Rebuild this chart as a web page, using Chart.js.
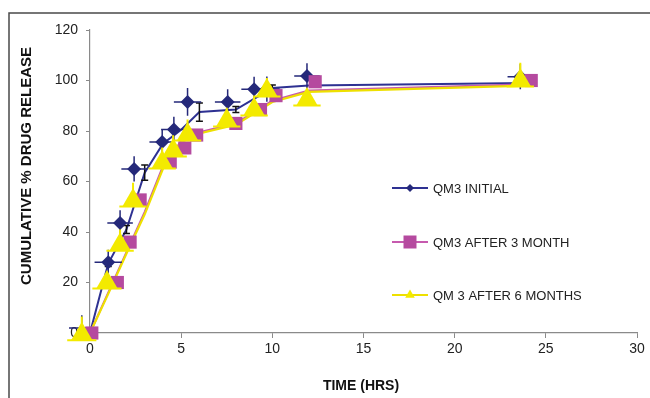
<!DOCTYPE html>
<html>
<head>
<meta charset="utf-8">
<title>QM3 drug release</title>
<script src="https://cdn.jsdelivr.net/npm/chart.js"></script>
<style>
body{margin:0;background:#fff}
#wrap{width:650px;height:398px}
</style>
</head>
<body>
<div id="wrap"><canvas id="chart" width="650" height="398"></canvas></div>
<script>
// release profiles at the sampling times (the joined lines)
const hours = [0, 1, 2, 3, 4, 5, 6, 8, 10, 12, 24]
const initialLine = [0, 27.5, 41, 63.5, 75, 80.5, 87.5, 88.5, 97, 98, 99]
const month3Line = [0, 16, 32, 48, 66, 76, 79.5, 83, 92, 96, 98.5]
const month6Line = [0, 15.5, 31.5, 47, 65, 75.5, 79, 82.5, 91.5, 95.5, 98]
// sd bars (black) on the initial profile
const initialSd = [0, 1.2, 1.6, 3, 0, 0, 3.6, 1.2, 1.2, 0, 0]

// markers as they sit on the figure
const initialX = [-0.45, 1, 1.65, 2.42, 3.96, 4.6, 5.35, 7.55, 9, 9.7, 11.9, 23.6]
const initialY = [2, 28, 43.6, 65, 75.6, 80.6, 91.5, 91.5, 96.5, 96.6, 101.8, 101.5]
const initialErrX = [0.7, 0.75, 0.7, 0.7, 0.7, 0.7, 0.75, 0.7, 0.7, 0.7, 0.7, 0.7]
const initialErrY = [5, 5, 5, 5, 5, 5, 5.5, 5, 5, 5, 5, 5]

const month3X = [0.1, 1.5, 2.2, 2.75, 4.4, 5.2, 5.85, 8, 9.35, 10.2, 12.35, 24.2]
const month3Y = [0, 20, 36, 52.7, 67.7, 73.3, 78.4, 83, 88.5, 94, 99.5, 100]

const month6X = [-0.45, 0.93, 1.65, 2.36, 3.96, 4.56, 5.35, 7.5, 9, 9.7, 11.9, 23.6]
const month6Y = [-0.5, 20, 35, 52.5, 67.5, 72.3, 78.6, 84.2, 88.5, 96, 92.5, 100]
const month6ErrX = [0.8, 0.8, 0.75, 0.75, 0.75, 0.75, 0.75, 0.75, 0.75, 0.75, 0.75, 0.75]
const month6ErrUp = [7, 4, 6, 7, 6, 6, 6, 5, 5, 5, 4, 7]

const xTicks = [0, 5, 10, 15, 20, 25, 30]
const yTicks = [0, 20, 40, 60, 80, 100, 120]

const seriesNames = ["QM3 INITIAL", "QM3 AFTER 3 MONTH", "QM 3 AFTER 6 MONTHS"]

const BLUE = "#25297a"
const BLUE_LINE = "#2e3192"
const PINK = "#b54a9f"
const PINK_LINE = "#c65aae"
const YELLOW = "#f3ea00"
const YELLOW_LINE = "#eee000"

function pts(xs, ys){
  return xs.map((x, i) => ({x: x, y: ys[i]}))
}

// error bars drawn right after each dataset, through the scales
const errorBars = {
  id: "errorBars",
  afterDatasetDraw(chart, args){
    const ds = chart.data.datasets[args.index]
    const e = ds.errorBars
    if(!e) return
    const ctx = chart.ctx
    const xs = chart.scales.x, ys = chart.scales.y
    ctx.save()
    ctx.strokeStyle = e.color
    ctx.lineWidth = e.width
    ds.data.forEach((p, i) => {
      const px = xs.getPixelForValue(p.x)
      const py = ys.getPixelForValue(p.y)
      ctx.beginPath()
      if(e.yUp && e.yUp[i]){
        ctx.moveTo(px, py)
        ctx.lineTo(px, ys.getPixelForValue(p.y + e.yUp[i]))
      }
      if(e.yDown && e.yDown[i]){
        ctx.moveTo(px, py)
        ctx.lineTo(px, ys.getPixelForValue(p.y - e.yDown[i]))
      }
      if(e.x && e.x[i]){
        const dy = e.dy || 0
        ctx.moveTo(xs.getPixelForValue(p.x - e.x[i]), py + dy)
        ctx.lineTo(xs.getPixelForValue(p.x + e.x[i]), py + dy)
      }
      if(e.cap && e.yUp && e.yUp[i]){
        const t = ys.getPixelForValue(p.y + e.yUp[i])
        const b = ys.getPixelForValue(p.y - e.yDown[i])
        ctx.moveTo(px - e.cap, t); ctx.lineTo(px + e.cap, t)
        ctx.moveTo(px - e.cap, b); ctx.lineTo(px + e.cap, b)
      }
      ctx.stroke()
    })
    ctx.restore()
  }
}

function marker(ctx, style, x, y, r, color){
  ctx.fillStyle = color
  ctx.beginPath()
  if(style == "diamond"){
    ctx.moveTo(x, y - r); ctx.lineTo(x + r, y); ctx.lineTo(x, y + r); ctx.lineTo(x - r, y)
  } else if(style == "square"){
    ctx.rect(x - r, y - r, 2 * r, 2 * r)
  } else {
    ctx.moveTo(x, y - r); ctx.lineTo(x + r * 0.87, y + r * 0.5); ctx.lineTo(x - r * 0.87, y + r * 0.5)
  }
  ctx.closePath()
  ctx.fill()
}

// frame, axis titles and the legend inside the plot
const decor = {
  id: "decor",
  beforeDraw(chart){
    const ctx = chart.ctx
    ctx.save()
    ctx.fillStyle = "#fff"
    ctx.fillRect(0, 0, chart.width, chart.height)
    ctx.strokeStyle = "#4a4a4a"
    ctx.lineWidth = 1.5
    ctx.beginPath()
    ctx.moveTo(9, chart.height)
    ctx.lineTo(9, 13)
    ctx.lineTo(chart.width, 13)
    ctx.stroke()
    ctx.restore()
  },
  afterDraw(chart){
    const ctx = chart.ctx
    ctx.save()
    ctx.fillStyle = "#111"
    ctx.font = "bold 15px 'Liberation Sans', Arial, sans-serif"
    ctx.textAlign = "center"
    ctx.textBaseline = "middle"
    ctx.translate(27, 166)
    ctx.rotate(-Math.PI / 2)
    ctx.fillText("CUMULATIVE % DRUG RELEASE", 0, 0)
    ctx.restore()

    ctx.save()
    ctx.fillStyle = "#111"
    ctx.font = "bold 14px 'Liberation Sans', Arial, sans-serif"
    ctx.textAlign = "center"
    ctx.textBaseline = "middle"
    ctx.fillText("TIME (HRS)", 361, 386)

    const rows = [
      {y: 188, line: BLUE_LINE, color: BLUE, style: "diamond", r: 4},
      {y: 242, line: PINK_LINE, color: PINK, style: "square", r: 6.5},
      {y: 295, line: YELLOW_LINE, color: YELLOW, style: "triangle", r: 5.5}
    ]
    ctx.font = "13px 'Liberation Sans', Arial, sans-serif"
    ctx.textAlign = "left"
    rows.forEach((row, i) => {
      ctx.strokeStyle = row.line
      ctx.lineWidth = 2
      ctx.beginPath()
      ctx.moveTo(392, row.y)
      ctx.lineTo(428, row.y)
      ctx.stroke()
      marker(ctx, row.style, 410, row.y, row.r, row.color)
      ctx.fillStyle = "#222"
      ctx.fillText(seriesNames[i], 433, row.y + 1)
    })
    ctx.restore()
  }
}

const tickFont = {family: "'Liberation Sans', Arial, sans-serif", size: 14}

new Chart(document.getElementById("chart"), {
  type: "line",
  data: {
    datasets: [
      {
        label: seriesNames[2] + " markers", data: pts(month6X, month6Y),
        showLine: false, pointStyle: "triangle", pointRadius: 12.5, pointHoverRadius: 12.5,
        backgroundColor: YELLOW, borderWidth: 0, clip: false, order: 0,
        errorBars: {color: YELLOW, width: 2, x: month6ErrX, yUp: month6ErrUp, dy: 6}
      },
      {
        label: seriesNames[1] + " markers", data: pts(month3X, month3Y),
        showLine: false, pointStyle: "rect", pointRadius: 9.3, pointHoverRadius: 9.3,
        backgroundColor: PINK, borderWidth: 0, clip: false, order: 1
      },
      {
        label: seriesNames[0] + " markers", data: pts(initialX, initialY),
        showLine: false, pointStyle: "rectRot", pointRadius: 7, pointHoverRadius: 7,
        backgroundColor: BLUE, borderWidth: 0, clip: false, order: 2,
        errorBars: {color: BLUE, width: 1.5, x: initialErrX, yUp: initialErrY, yDown: initialErrY}
      },
      {
        label: seriesNames[2], data: pts(hours, month6Line),
        borderColor: YELLOW_LINE, borderWidth: 2.2, pointRadius: 0, tension: 0, clip: false, order: 3
      },
      {
        label: seriesNames[1], data: pts(hours, month3Line),
        borderColor: PINK_LINE, borderWidth: 2, pointRadius: 0, tension: 0, clip: false, order: 4
      },
      {
        label: seriesNames[0], data: pts(hours, initialLine),
        borderColor: BLUE_LINE, borderWidth: 2, pointRadius: 0, tension: 0, clip: false, order: 5,
        errorBars: {color: "#111", width: 1.5, yUp: initialSd, yDown: initialSd, cap: 3.5}
      }
    ]
  },
  options: {
    responsive: false,
    animation: false,
    devicePixelRatio: 1,
    layout: {padding: {top: 30, right: 13, bottom: 0, left: 0}},
    plugins: {legend: {display: false}, tooltip: {enabled: false}},
    scales: {
      x: {
        type: "linear", min: 0, max: 30,
        afterFit: s => { s.height = 65 },
        afterBuildTicks: s => { s.ticks = xTicks.map(v => ({value: v})) },
        ticks: {font: tickFont, color: "#222", padding: 3},
        grid: {drawOnChartArea: false, tickLength: 5, color: "#8a8a8a"},
        border: {color: "#8a8a8a", width: 1.2}
      },
      y: {
        min: 0, max: 120, z: 1,
        afterFit: s => { s.width = 90 },
        afterBuildTicks: s => { s.ticks = yTicks.map(v => ({value: v})) },
        ticks: {font: tickFont, color: "#222", padding: 8},
        grid: {drawOnChartArea: false, tickLength: 4, color: "#8a8a8a"},
        border: {color: "#8a8a8a", width: 1.2}
      }
    }
  },
  plugins: [errorBars, decor]
})
</script>
</body>
</html>
